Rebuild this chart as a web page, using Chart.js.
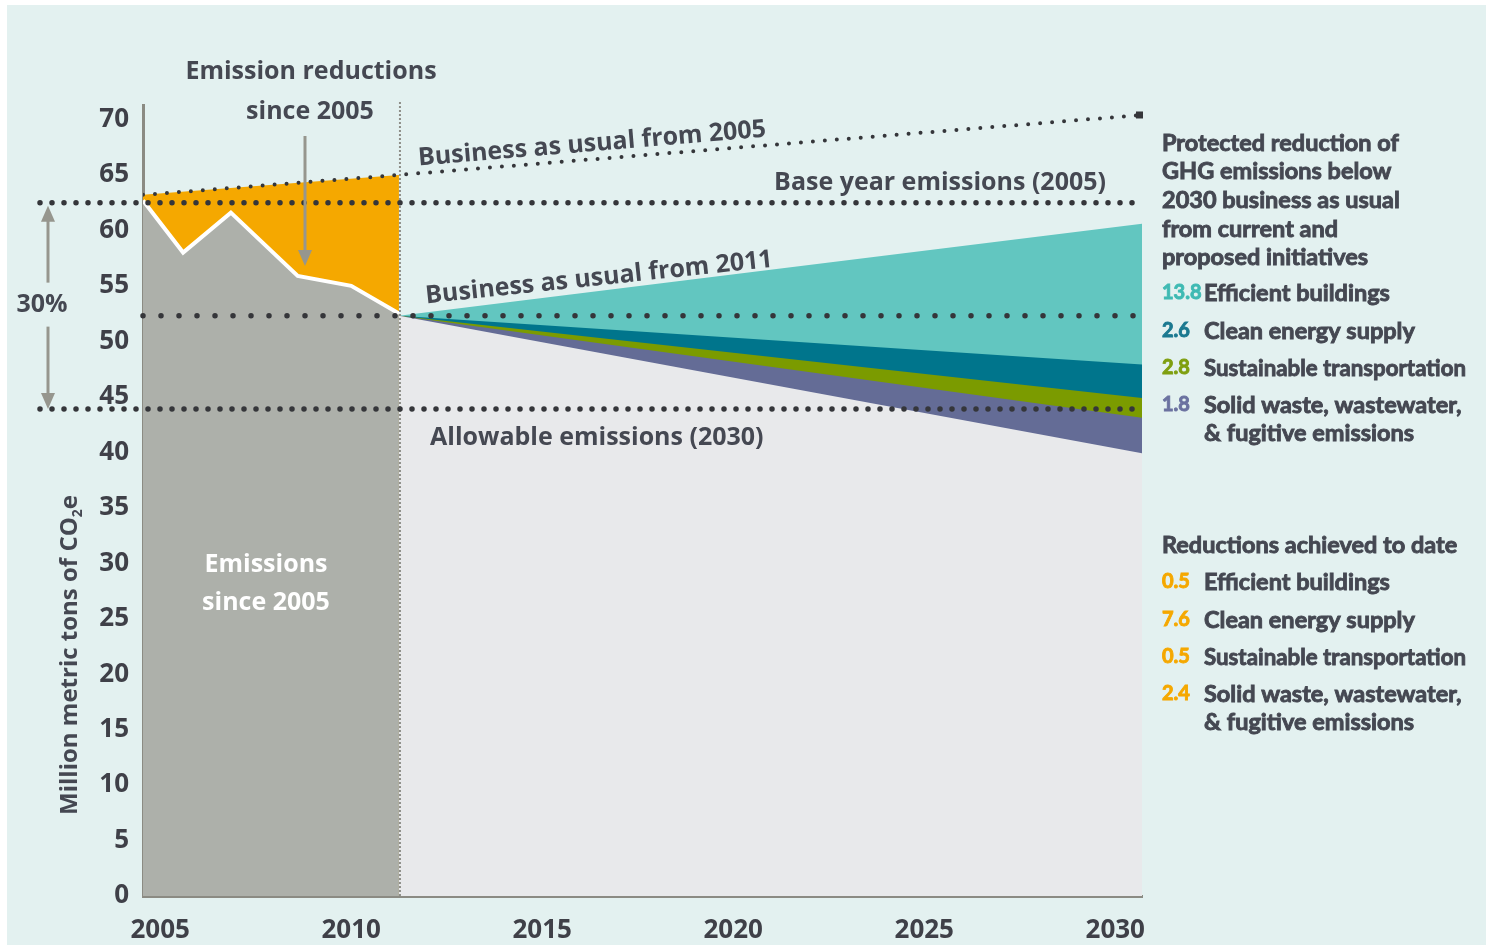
<!DOCTYPE html>
<html lang="en">
<head>
<meta charset="UTF-8">
<title>GHG emissions since 2005 and to 2030</title>
<script src="https://cdn.jsdelivr.net/npm/chart.js"></script>
<style>
  html, body { margin: 0; padding: 0; background: #fff; }
  #wrap { width: 1486px; height: 945px; }
</style>
</head>
<body>
<div id="wrap"><canvas id="chart"></canvas></div>
<script>
// emissions since 2005 (million metric tons CO2e)
const histYears = [2004.55, 2005.6, 2006.85, 2008.6, 2010, 2011.25];
const histValues = [62.7, 58.0, 61.6, 55.9, 55.0, 52.5];

// business as usual from 2005
const bau05Years = [2004.55, 2011.25, 2030.7];
const bau05Values = [63.2, 65.0, 70.4];

// projections 2011 -> 2030, each line is the level after one more wedge
const projYears = [2011.25, 2030.7];
const bau11Values = [52.3, 60.6];
const afterBuildings = [52.3, 47.9];
const afterEnergy = [52.3, 44.9];
const afterTransport = [52.3, 43.1];
const afterWaste = [52.3, 39.9];

// reference levels
const baseYear = 62.5;
const level2011 = 52.3;
const allowable2030 = 43.9;

const yTicks = [0, 5, 10, 15, 20, 25, 30, 35, 40, 45, 50, 55, 60, 65, 70];
const xTicks = [2005, 2010, 2015, 2020, 2025, 2030];

const protectedNums = ['13.8', '2.6', '2.8', '1.8'];
const protectedLabels = ['Efficient buildings', 'Clean energy supply', 'Sustainable transportation', 'Solid waste, wastewater,'];
const achievedNums = ['0.5', '7.6', '0.5', '2.4'];
const achievedLabels = ['Efficient buildings', 'Clean energy supply', 'Sustainable transportation', 'Solid waste, wastewater,'];

const FONT = 'Open Sans';   // labels, ticks
const FONT_N = 'Lato';      // narrower notes on the right
const TXT = '#454852';
const wedgeColors = ['#62c6c0', '#00758c', '#7b9b00', '#646c96'];
const numColors = ['#3fbab3', '#1b7990', '#7f9f10', '#6b72a0'];

function pts(xs, ys) {
  return xs.map((x, i) => ({ x: x, y: ys[i] }));
}

function area(data, color, order) {
  return {
    data: data, order: order, fill: 'origin',
    backgroundColor: color, borderColor: color, borderWidth: 0,
    pointRadius: 0, tension: 0
  };
}

function dotLine(ctx, x1, y1, x2, y2, gap, w) {
  ctx.save();
  ctx.strokeStyle = '#35363a';
  ctx.lineWidth = w;
  ctx.lineCap = 'round';
  ctx.setLineDash([0, gap]);
  ctx.beginPath();
  ctx.moveTo(x1, y1);
  ctx.lineTo(x2, y2);
  ctx.stroke();
  ctx.restore();
}

function arrow(ctx, x, yFrom, yTip, head) {
  const dir = yTip > yFrom ? 1 : -1;
  ctx.save();
  ctx.strokeStyle = '#96968e';
  ctx.fillStyle = '#96968e';
  ctx.lineWidth = 3;
  ctx.beginPath();
  ctx.moveTo(x, yFrom);
  ctx.lineTo(x, yTip - dir * head);
  ctx.stroke();
  ctx.beginPath();
  ctx.moveTo(x, yTip);
  ctx.lineTo(x - 7, yTip - dir * (head + 2));
  ctx.lineTo(x + 7, yTip - dir * (head + 2));
  ctx.closePath();
  ctx.fill();
  ctx.restore();
}

function text(ctx, s, x, y, size, color, align, rot, family, maxW) {
  ctx.save();
  ctx.font = 'bold ' + size + 'px ' + (family || FONT);
  ctx.fillStyle = color;
  ctx.textAlign = align || 'left';
  ctx.textBaseline = 'middle';
  ctx.translate(x, y);
  if (rot) ctx.rotate(rot);
  if (maxW) ctx.fillText(s, 0, 0, maxW); else ctx.fillText(s, 0, 0);
  if (family === FONT_N) {
    // thicken the narrow face a little
    ctx.strokeStyle = color;
    ctx.lineWidth = 0.9;
    if (maxW) ctx.strokeText(s, 0, 0, maxW); else ctx.strokeText(s, 0, 0);
  }
  ctx.restore();
}

function note(ctx, s, x, y) {
  text(ctx, s, x, y, 23.5, TXT, 'left', 0, FONT_N, 1466 - x);
}

const decor = {
  id: 'decor',
  beforeDraw(chart) {
    const ctx = chart.ctx;
    ctx.save();
    ctx.fillStyle = '#e3f1f0';
    ctx.fillRect(7, 5, chart.width - 7, chart.height - 5);
    ctx.restore();
  },
  afterDatasetsDraw(chart) {
    const ctx = chart.ctx;
    const xS = chart.scales.x, yS = chart.scales.y;
    const a = chart.chartArea;
    const xSplit = xS.getPixelForValue(projYears[0]);

    // vertical divider at 2011
    ctx.save();
    ctx.strokeStyle = '#8e8e88';
    ctx.lineWidth = 2;
    ctx.setLineDash([2, 2]);
    ctx.beginPath();
    ctx.moveTo(xSplit + 1, a.top - 3);
    ctx.lineTo(xSplit + 1, a.bottom);
    ctx.stroke();
    ctx.restore();

    // reference levels
    const yBase = yS.getPixelForValue(baseYear);
    const y2011 = yS.getPixelForValue(level2011);
    const yAllow = yS.getPixelForValue(allowable2030);
    dotLine(ctx, 40, yBase, a.right, yBase, 12, 5.5);
    dotLine(ctx, a.left, y2011, a.right, y2011, 18, 5.5);
    dotLine(ctx, 40, yAllow, a.right, yAllow, 12, 5.5);

    // end marker of business as usual line
    ctx.save();
    ctx.fillStyle = '#35363a';
    ctx.fillRect(xS.getPixelForValue(bau05Years[2]) - 6, yS.getPixelForValue(bau05Values[2]) - 3.5, 7, 7);
    ctx.restore();

    // 30% arrows
    arrow(ctx, 48, yBase + 80, yBase + 3, 14);
    arrow(ctx, 48, yBase + 124, yAllow, 14);
    text(ctx, '30%', 42, yBase + 102, 25, TXT, 'center');

    // emission reductions label + arrow
    text(ctx, 'Emission reductions', 311, 72, 25, TXT, 'center');
    text(ctx, 'since 2005', 310, 112, 25, TXT, 'center');
    arrow(ctx, 305, 136, 266, 14);

    // emissions since 2005
    text(ctx, 'Emissions', 266, 565, 25, '#ffffff', 'center');
    text(ctx, 'since 2005', 266, 603, 25, '#ffffff', 'center');

    // line labels
    text(ctx, 'Business as usual from 2005', 592, 144, 25, TXT, 'center', -0.083);
    text(ctx, 'Business as usual from 2011', 599, 278, 25, TXT, 'center', -0.105);
    text(ctx, 'Base year emissions (2005)', 1106, yBase - 20, 25, TXT, 'right');
    text(ctx, 'Allowable emissions (2030)', 430, yAllow + 29, 25, TXT, 'left');

    // y axis title with subscript
    ctx.save();
    ctx.translate(68, 655);
    ctx.rotate(-Math.PI / 2);
    ctx.fillStyle = TXT;
    ctx.textBaseline = 'alphabetic';
    ctx.font = 'bold 24px ' + FONT;
    const main = 'Million metric tons of CO';
    const wMain = ctx.measureText(main).width;
    ctx.font = 'bold 14px ' + FONT;
    const wSub = ctx.measureText('2').width;
    ctx.font = 'bold 24px ' + FONT;
    const wE = ctx.measureText('e').width;
    let x0 = -(wMain + wSub + wE) / 2;
    ctx.fillText(main, x0, 9);
    ctx.font = 'bold 14px ' + FONT;
    ctx.fillText('2', x0 + wMain, 14);
    ctx.font = 'bold 24px ' + FONT;
    ctx.fillText('e', x0 + wMain + wSub, 9);
    ctx.restore();

    // right side notes
    const lx = 1162, tx = 1204;
    const head1 = ['Protected reduction of', 'GHG emissions below', '2030 business as usual', 'from current and', 'proposed initiatives'];
    head1.forEach((s, i) => note(ctx, s, lx, 143 + i * 28.7));
    const y1 = [293, 331, 368, 405];
    protectedNums.forEach((n, i) => {
      text(ctx, n, lx, y1[i], 20, numColors[i], 'left', 0, FONT_N);
      note(ctx, protectedLabels[i], tx, y1[i]);
    });
    note(ctx, '& fugitive emissions', tx, 433);

    note(ctx, 'Reductions achieved to date', lx, 545);
    const y2 = [582, 620, 657, 694];
    achievedNums.forEach((n, i) => {
      text(ctx, n, lx, y2[i], 20, '#f5a800', 'left', 0, FONT_N);
      note(ctx, achievedLabels[i], tx, y2[i]);
    });
    note(ctx, '& fugitive emissions', tx, 722);
  }
};

new Chart(document.getElementById('chart'), {
  type: 'line',
  data: {
    datasets: [
      area(pts(projYears, bau11Values), wedgeColors[0], 10),
      area(pts(projYears, afterBuildings), wedgeColors[1], 9),
      area(pts(projYears, afterEnergy), wedgeColors[2], 8),
      area(pts(projYears, afterTransport), wedgeColors[3], 7),
      area(pts(projYears, afterWaste), '#e8e9eb', 6),
      area(pts(bau05Years.slice(0, 2), bau05Values.slice(0, 2)), '#f5a800', 5),
      {
        data: pts(histYears, histValues), order: 4, fill: 'origin',
        backgroundColor: '#adb0aa', borderColor: '#ffffff', borderWidth: 4,
        borderJoinStyle: 'miter', pointRadius: 0, tension: 0
      },
      {
        data: pts(bau05Years, bau05Values), order: 1, fill: false,
        borderColor: '#35363a', borderWidth: 4, borderDash: [0, 12],
        borderCapStyle: 'round', pointRadius: 0, tension: 0
      }
    ]
  },
  options: {
    responsive: true,
    maintainAspectRatio: false,
    animation: false,
    layout: { padding: { top: 105, right: 344, left: 0, bottom: 0 } },
    plugins: { legend: { display: false }, tooltip: { enabled: false } },
    scales: {
      x: {
        type: 'linear', min: 2004.55, max: 2030.7,
        z: 1,
        grid: { display: false, drawTicks: false },
        border: { color: '#8b8b83', width: 3 },
        afterFit: s => { s.height = 49; },
        afterBuildTicks: s => { s.ticks = xTicks.map(v => ({ value: v })); },
        ticks: {
          padding: 19, maxRotation: 0, autoSkip: false,
          color: '#3f4048', font: { family: FONT, size: 26, weight: 'bold' },
          callback: v => String(v)
        }
      },
      y: {
        min: 0, max: 71.3,
        z: 1,
        grid: { display: false, drawTicks: false },
        border: { color: '#8b8b83', width: 3 },
        afterFit: s => { s.width = 143; },
        afterBuildTicks: s => { s.ticks = yTicks.map(v => ({ value: v })); },
        ticks: {
          padding: 14, color: '#3f4048',
          font: { family: FONT, size: 26, weight: 'bold' }
        }
      }
    }
  },
  plugins: [decor]
});
</script>
</body>
</html>
